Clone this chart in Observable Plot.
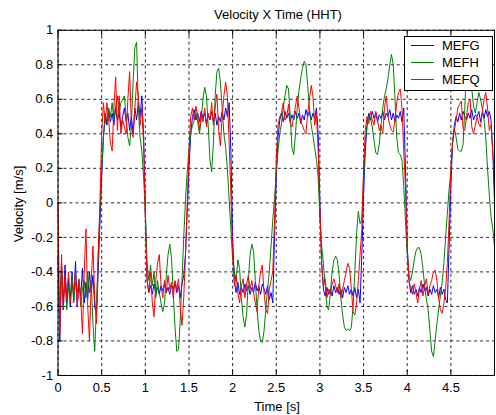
<!DOCTYPE html>
<html><head><meta charset="utf-8">
<script src="https://cdn.jsdelivr.net/npm/d3@7"></script>
<script src="https://cdn.jsdelivr.net/npm/@observablehq/plot@0.6"></script>
<style>
html,body{margin:0;padding:0;background:#fff;overflow:hidden}
#wrap{position:relative;width:496px;height:415px;overflow:hidden;font-family:"Liberation Sans",Arial,sans-serif;color:#000;background:#fff}
#wrap svg{position:absolute;left:0;top:0}
.lbl{position:absolute;font-size:13px;line-height:13px;white-space:nowrap}
#legend{position:absolute;left:404px;top:36px;width:87px;height:53px;border:1px solid #000;background:#fff}
#legend .ln{position:absolute;left:6px;width:23px;height:0;border-top:1px solid}
#legend .tx{position:absolute;left:37px;font-size:13px;line-height:13px}
</style></head>
<body>
<div id="wrap"></div>
<script>
// time step of the sampled signals (s)
const dt = 0.02;

const seriesNames = ["MEFG", "MEFH", "MEFQ"];
const seriesColors = ["#0000ff", "#008000", "#ff0000"];

const xTicks = [0, 0.5, 1, 1.5, 2, 2.5, 3, 3.5, 4, 4.5];
const xTickLabels = ["0", "0.5", "1", "1.5", "2", "2.5", "3", "3.5", "4", "4.5"];
const yTicks = [-1, -0.8, -0.6, -0.4, -0.2, 0, 0.2, 0.4, 0.6, 0.8, 1];
const yTickLabels = ["-1", "-0.8", "-0.6", "-0.4", "-0.2", "0", "0.2", "0.4", "0.6", "0.8", "1"];

const mefg = [
-0.30,-0.80,-0.38,-0.62,-0.36,-0.58,-0.44,-0.60,-0.40,-0.56,-0.34,-0.60,-0.46,-0.54,-0.38,-0.58,-0.46,-0.56,-0.40,-0.52,-0.42,-0.60,-0.65,-0.40,-0.12,
0.15,0.38,0.50,0.45,0.53,0.47,0.52,0.45,0.55,0.48,0.52,0.44,0.50,0.55,0.47,0.52,0.42,0.50,0.40,0.55,0.48,0.58,0.50,0.62,0.40,
-0.05,-0.45,-0.52,-0.48,-0.53,-0.47,-0.52,-0.49,-0.53,-0.48,-0.51,-0.47,-0.52,-0.49,-0.53,-0.48,-0.50,-0.46,-0.52,-0.48,-0.55,-0.47,-0.42,-0.30,-0.05,
0.20,0.40,0.50,0.54,0.48,0.52,0.47,0.53,0.49,0.52,0.46,0.51,0.48,0.53,0.47,0.52,0.45,0.50,0.47,0.53,0.48,0.55,0.50,0.58,0.30,
-0.20,-0.45,-0.52,-0.46,-0.53,-0.49,-0.52,-0.47,-0.51,-0.48,-0.53,-0.49,-0.52,-0.46,-0.51,-0.48,-0.53,-0.47,-0.50,-0.53,-0.48,-0.56,-0.52,-0.58,-0.20,
0.15,0.38,0.48,0.52,0.47,0.53,0.49,0.52,0.47,0.51,0.48,0.53,0.49,0.52,0.46,0.51,0.48,0.54,0.50,0.53,0.48,0.52,0.49,0.55,0.40,
0.00,-0.35,-0.50,-0.54,-0.49,-0.53,-0.50,-0.54,-0.48,-0.52,-0.49,-0.53,-0.50,-0.55,-0.49,-0.52,-0.48,-0.53,-0.50,-0.54,-0.49,-0.55,-0.50,-0.58,-0.30,
0.05,0.30,0.45,0.52,0.48,0.53,0.49,0.52,0.47,0.51,0.49,0.53,0.48,0.52,0.50,0.54,0.48,0.52,0.47,0.51,0.49,0.53,0.47,0.55,0.20,
-0.25,-0.45,-0.52,-0.48,-0.53,-0.50,-0.54,-0.49,-0.52,-0.47,-0.51,-0.49,-0.54,-0.50,-0.53,-0.48,-0.52,-0.50,-0.55,-0.49,-0.53,-0.50,-0.56,-0.58,-0.25,
0.10,0.35,0.45,0.50,0.47,0.52,0.48,0.53,0.50,0.48,0.52,0.49,0.54,0.48,0.51,0.50,0.53,0.47,0.52,0.49,0.54,0.50,0.53,0.48,0.30,
0.00];

const mefh = [
-0.45,-0.62,-0.35,-0.55,-0.45,-0.62,-0.48,-0.55,-0.42,-0.58,-0.46,-0.52,-0.44,-0.60,-0.50,-0.45,-0.55,-0.40,-0.52,-0.45,-0.70,-0.86,-0.60,-0.30,-0.05,
0.20,0.38,0.52,0.47,0.55,0.50,0.58,0.48,0.56,0.62,0.52,0.58,0.60,0.62,0.50,0.38,0.33,0.45,0.70,0.90,0.93,0.55,0.38,0.30,0.15,
-0.05,-0.35,-0.45,-0.36,-0.48,-0.40,-0.55,-0.45,-0.52,-0.58,-0.63,-0.58,-0.42,-0.30,-0.24,-0.32,-0.52,-0.72,-0.86,-0.85,-0.68,-0.45,-0.20,0.02,0.18,
0.30,0.40,0.45,0.48,0.52,0.47,0.40,0.48,0.60,0.67,0.62,0.45,0.25,0.18,0.35,0.62,0.76,0.78,0.70,0.55,0.40,0.32,0.20,0.02,-0.15,
-0.32,-0.40,-0.45,-0.33,-0.38,-0.55,-0.66,-0.72,-0.65,-0.45,-0.30,-0.24,-0.28,-0.45,-0.62,-0.74,-0.80,-0.81,-0.74,-0.62,-0.50,-0.40,-0.25,-0.10,0.02,
0.18,0.30,0.40,0.46,0.55,0.62,0.68,0.66,0.50,0.32,0.28,0.40,0.55,0.65,0.72,0.78,0.82,0.80,0.68,0.55,0.45,0.39,0.32,0.25,0.15,
-0.09,-0.25,-0.35,-0.48,-0.60,-0.62,-0.52,-0.40,-0.33,-0.31,-0.33,-0.42,-0.55,-0.65,-0.72,-0.74,-0.73,-0.74,-0.72,-0.60,-0.40,-0.18,-0.05,-0.12,-0.10,
0.15,0.35,0.45,0.50,0.49,0.44,0.36,0.29,0.28,0.34,0.45,0.55,0.62,0.66,0.72,0.80,0.86,0.80,0.60,0.38,0.29,0.28,0.25,0.10,-0.10,
-0.30,-0.42,-0.45,-0.40,-0.33,-0.28,-0.26,-0.26,-0.30,-0.38,-0.48,-0.56,-0.62,-0.74,-0.86,-0.89,-0.80,-0.70,-0.62,-0.54,-0.46,-0.35,-0.20,-0.06,0.08,
0.18,0.35,0.43,0.38,0.31,0.30,0.30,0.34,0.55,0.80,0.95,0.90,0.66,0.56,0.52,0.58,0.64,0.60,0.55,0.48,0.38,0.20,0.05,-0.08,-0.15,
-0.25];

const mefq = [
0.00,-0.75,-0.30,-0.62,-0.42,-0.55,-0.40,-0.58,-0.48,-0.52,-0.40,-0.60,-0.45,-0.55,-0.76,-0.40,-0.15,-0.60,-0.80,-0.45,-0.25,-0.55,-0.70,-0.30,0.00,
0.40,0.58,0.46,0.58,0.48,0.35,0.30,0.55,0.73,0.42,0.62,0.40,0.48,0.44,0.40,0.60,0.76,0.45,0.38,0.55,0.70,0.62,0.45,0.55,0.35,
-0.10,-0.45,-0.52,-0.40,-0.58,-0.66,-0.45,-0.35,-0.30,-0.48,-0.55,-0.45,-0.52,-0.42,-0.50,-0.46,-0.55,-0.45,-0.50,-0.44,-0.60,-0.71,-0.55,-0.30,0.00,
0.30,0.50,0.55,0.48,0.56,0.50,0.42,0.53,0.47,0.55,0.44,0.52,0.48,0.58,0.45,0.55,0.63,0.42,0.33,0.50,0.62,0.70,0.62,0.35,0.05,
-0.30,-0.48,-0.42,-0.52,-0.58,-0.48,-0.44,-0.55,-0.47,-0.42,-0.50,-0.45,-0.52,-0.58,-0.63,-0.48,-0.40,-0.36,-0.52,-0.62,-0.64,-0.50,-0.45,-0.40,-0.10,
0.25,0.45,0.50,0.52,0.58,0.48,0.50,0.57,0.46,0.44,0.50,0.56,0.62,0.55,0.47,0.45,0.42,0.40,0.52,0.60,0.68,0.62,0.45,0.52,0.30,
-0.05,-0.35,-0.48,-0.44,-0.55,-0.50,-0.53,-0.47,-0.44,-0.48,-0.52,-0.47,-0.55,-0.50,-0.45,-0.40,-0.35,-0.38,-0.50,-0.63,-0.65,-0.58,-0.45,-0.30,-0.15,
0.20,0.42,0.50,0.46,0.53,0.48,0.45,0.53,0.48,0.42,0.45,0.40,0.55,0.62,0.50,0.45,0.42,0.41,0.48,0.58,0.64,0.66,0.55,0.30,0.10,
-0.25,-0.45,-0.50,-0.53,-0.47,-0.52,-0.58,-0.50,-0.45,-0.54,-0.48,-0.44,-0.53,-0.48,-0.45,-0.40,-0.39,-0.45,-0.55,-0.62,-0.64,-0.58,-0.50,-0.35,-0.10,
0.20,0.35,0.42,0.48,0.55,0.57,0.59,0.43,0.42,0.50,0.58,0.60,0.44,0.40,0.45,0.50,0.46,0.44,0.53,0.60,0.64,0.55,0.42,0.45,0.30,
0.15];

const seriesValues = [mefg, mefh, mefq];
const rows = seriesValues.map(vals => vals.map((v, i) => ({t: +(i * dt).toFixed(2), v})));

const xLabelOf = d => xTickLabels[xTicks.indexOf(d)] ?? "";
const yLabelOf = d => yTickLabels[yTicks.indexOf(d)] ?? "";

const gridStyle = {stroke: "#000", strokeOpacity: 0.85, strokeDasharray: "3,3", strokeWidth: 1};

const chart = Plot.plot({
  width: 500,
  height: 415,
  marginLeft: 58,
  marginRight: 2,
  marginTop: 30,
  marginBottom: 37,
  style: {fontFamily: "'Liberation Sans', Arial, sans-serif", fontSize: "13px", color: "#000", background: "transparent", overflow: "visible"},
  x: {domain: [0, 5]},
  y: {domain: [-1, 1]},
  marks: [
    Plot.gridX(xTicks, gridStyle),
    Plot.gridY(yTicks, gridStyle),
    ...rows.map((r, k) => Plot.line(r, {x: "t", y: "v", stroke: seriesColors[k], strokeWidth: 1})),
    Plot.axisX(xTicks, {anchor: "bottom", tickSize: -5, tickPadding: 12, tickFormat: xLabelOf, label: null, fontSize: 13}),
    Plot.axisX(xTicks, {anchor: "top", tickSize: -5, tickPadding: 0, tickFormat: () => "", label: null}),
    Plot.axisY(yTicks, {anchor: "left", tickSize: -5, tickPadding: 10, tickFormat: yLabelOf, label: null, fontSize: 13}),
    Plot.frame({stroke: "#000"})
  ]
});

const wrap = document.getElementById("wrap");
wrap.appendChild(chart);

function addLabel(text, css) {
  const d = document.createElement("div");
  d.className = "lbl";
  d.textContent = text;
  Object.assign(d.style, css);
  wrap.appendChild(d);
  return d;
}
addLabel("Velocity X Time (HHT)", {left: "278px", top: "8px", transform: "translateX(-50%)"});
addLabel("Time [s]", {left: "277px", top: "400px", transform: "translateX(-50%)"});
addLabel("Velocity [m/s]", {left: "18px", top: "204px", transform: "translate(-50%,-50%) rotate(-90deg)"});

const legend = document.createElement("div");
legend.id = "legend";
seriesNames.forEach((name, k) => {
  const ln = document.createElement("div");
  ln.className = "ln";
  ln.style.top = (8 + 17 * k) + "px";
  ln.style.borderTopColor = seriesColors[k];
  legend.appendChild(ln);
  const tx = document.createElement("div");
  tx.className = "tx";
  tx.style.top = (2 + 17 * k) + "px";
  tx.textContent = name;
  legend.appendChild(tx);
});
wrap.appendChild(legend);
</script>
</body></html>
